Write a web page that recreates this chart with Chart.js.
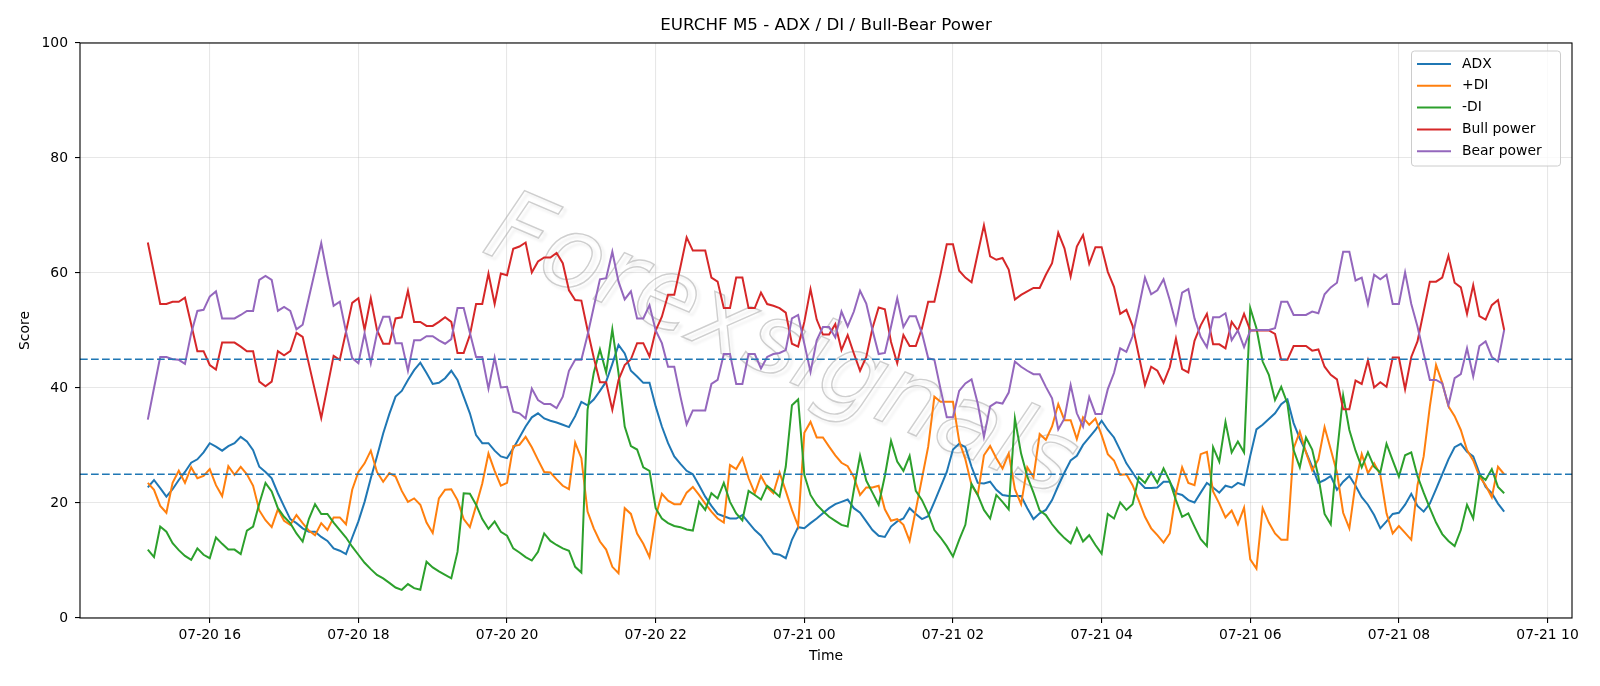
<!DOCTYPE html>
<html>
<head>
<meta charset="utf-8">
<script src="https://cdn.jsdelivr.net/npm/chart.js@4.4.1/dist/chart.umd.min.js"></script>
<style>
  body { margin: 0; background: #fff; }
  #wrap { position: absolute; left: 0; top: 0; width: 1600px; height: 686px; }
</style>
</head>
<body>
<div id="wrap"><canvas id="chart" width="1600" height="686"></canvas></div>
<script>
// EURCHF M5, one bar every 5 minutes from 07-20 15:10 to 07-21 09:25
const startMinute = 15 * 60 + 10; // minutes after 07-20 00:00
const stepMinutes = 5;

const adx = [
  22.7, 24.0, 22.6, 21.1, 22.4, 24.0, 25.4, 27.0, 27.6, 28.8,
  30.4, 29.8, 29.1, 29.9, 30.4, 31.5, 30.7, 29.2, 26.3, 25.4,
  24.3, 21.7, 19.4, 17.2, 16.5, 15.6, 15.0, 15.0, 14.1, 13.4,
  12.1, 11.7, 11.1, 14.0, 16.8, 20.2, 24.3, 28.1, 32.1, 35.5,
  38.5, 39.5, 41.4, 43.1, 44.4, 42.6, 40.7, 40.9, 41.7, 43.0,
  41.4, 38.5, 35.6, 31.8, 30.4, 30.4, 29.1, 28.1, 27.8, 29.5,
  31.4, 33.3, 34.9, 35.6, 34.7, 34.3, 34.0, 33.6, 33.2, 35.1,
  37.6, 37.0, 38.0, 39.5, 41.1, 44.2, 47.5, 46.0, 43.0, 42.0,
  40.9, 40.9, 36.8, 33.3, 30.4, 28.1, 26.8, 25.6, 25.0, 23.1,
  21.1, 19.5, 18.1, 17.7, 17.3, 17.3, 17.9, 16.6, 15.3, 14.3,
  12.7, 11.2, 11.0, 10.4, 13.6, 15.8, 15.6, 16.5, 17.3, 18.2,
  19.1, 19.8, 20.2, 20.6, 19.1, 18.3, 16.8, 15.3, 14.3, 14.1,
  15.9, 16.8, 17.3, 19.1, 18.1, 17.2, 17.7, 20.2, 22.8, 25.4,
  29.3, 30.3, 29.7, 26.3, 23.5, 23.4, 23.7, 22.3, 21.4, 21.2,
  21.2, 21.2, 19.1, 17.2, 18.2, 18.8, 20.5, 23.0, 25.3, 27.4,
  28.2, 30.1, 31.4, 32.7, 34.3, 32.7, 31.4, 29.2, 26.9, 25.3,
  23.7, 22.6, 22.6, 22.7, 23.7, 23.7, 21.7, 21.4, 20.5, 20.1,
  21.8, 23.5, 22.7, 21.8, 23.0, 22.7, 23.5, 23.1, 28.2, 32.8,
  33.6, 34.6, 35.6, 37.2, 38.0, 33.9, 31.2, 28.9, 26.3, 23.5,
  24.0, 24.7, 22.3, 23.7, 24.7, 23.0, 21.0, 19.7, 17.9, 15.6,
  16.8, 18.1, 18.3, 19.7, 21.6, 19.5, 18.5, 19.9, 22.4, 25.0,
  27.6, 29.7, 30.3, 28.9, 28.1, 25.2, 22.8, 21.7, 19.9, 18.5
];

const plusDI = [
  23.5, 22.3, 19.5, 18.3, 23.5, 25.6, 23.5, 26.2, 24.3, 24.7,
  25.9, 23.1, 21.2, 26.4, 24.9, 26.3, 25.0, 23.0, 18.7, 17.0,
  15.8, 18.9, 16.9, 16.2, 17.9, 16.5, 15.2, 14.4, 16.5, 15.3,
  17.5, 17.5, 16.3, 22.3, 25.4, 26.9, 29.1, 25.4, 23.7, 25.2,
  24.6, 22.1, 20.2, 20.8, 19.7, 16.6, 14.8, 20.8, 22.3, 22.4,
  20.5, 17.2, 15.8, 19.5, 23.4, 28.6, 25.6, 23.0, 23.5, 29.9,
  30.1, 31.5, 29.7, 27.5, 25.4, 25.3, 24.1, 23.0, 22.4, 30.5,
  27.8, 18.5, 15.6, 13.3, 11.9, 8.9, 7.8, 19.1, 18.1, 14.7,
  12.9, 10.6, 17.6, 21.6, 20.4, 19.8, 19.8, 21.8, 22.8, 21.4,
  19.9, 18.5, 17.3, 16.6, 26.6, 25.9, 27.8, 24.3, 21.7, 24.7,
  22.7, 21.7, 25.3, 22.1, 18.8, 16.0, 32.2, 34.1, 31.4, 31.4,
  29.8, 28.3, 27.0, 26.4, 24.5, 21.4, 22.7, 22.7, 23.0, 18.9,
  16.9, 17.2, 16.2, 13.4, 18.8, 24.3, 29.8, 38.5, 37.6, 37.6,
  37.6, 30.8, 27.6, 23.1, 21.4, 28.3, 29.9, 27.8, 26.0, 28.6,
  22.4, 19.8, 26.2, 24.5, 32.0, 31.0, 33.3, 37.2, 34.4, 34.4,
  31.1, 34.9, 33.6, 34.7, 31.8, 28.5, 27.4, 24.9, 25.0, 23.1,
  20.4, 17.6, 15.6, 14.4, 13.1, 14.7, 21.7, 26.2, 23.5, 23.1,
  28.5, 28.9, 22.0, 19.9, 17.5, 18.7, 16.3, 19.2, 10.2, 8.6,
  19.1, 16.6, 14.7, 13.6, 13.6, 29.5, 32.4, 28.8, 25.7, 27.6,
  33.2, 29.3, 25.3, 18.3, 15.6, 23.4, 28.5, 25.2, 26.9, 24.9,
  18.2, 14.7, 16.0, 14.8, 13.6, 23.1, 28.1, 36.8, 44.0, 40.9,
  36.8, 35.1, 32.7, 29.2, 27.4, 24.6, 23.1, 21.0, 26.3, 25.0
];

const minusDI = [
  11.9, 10.6, 15.9, 15.0, 13.0, 11.8, 10.8, 10.1, 12.1, 11.0,
  10.4, 14.0, 12.9, 11.9, 11.9, 11.1, 15.2, 15.9, 19.9, 23.5,
  22.0, 19.1, 17.6, 16.5, 14.7, 13.3, 17.2, 19.8, 18.1, 18.1,
  16.6, 15.3, 14.0, 12.4, 11.0, 9.6, 8.5, 7.5, 6.9, 6.1,
  5.3, 4.9, 5.9, 5.2, 4.9, 9.8, 8.8, 8.1, 7.5, 6.9,
  11.5, 21.7, 21.6, 19.7, 17.2, 15.5, 16.8, 15.0, 14.3, 12.1,
  11.4, 10.6, 10.0, 11.5, 14.7, 13.4, 12.7, 12.1, 11.7, 8.9,
  7.9, 36.2, 42.6, 46.7, 42.7, 50.2, 42.6, 33.3, 29.9, 29.3,
  26.2, 25.6, 19.1, 17.3, 16.5, 16.0, 15.8, 15.4, 15.2, 20.2,
  18.8, 21.7, 20.8, 23.5, 20.2, 18.2, 17.0, 22.1, 21.4, 20.6,
  23.0, 22.1, 21.1, 26.3, 37.0, 38.0, 24.9, 21.4, 19.7, 18.6,
  17.6, 16.9, 16.2, 15.9, 22.3, 28.2, 23.9, 21.8, 19.7, 24.7,
  30.8, 27.2, 25.6, 28.2, 22.1, 20.5, 18.2, 15.3, 14.0, 12.5,
  10.7, 13.6, 16.2, 23.3, 21.4, 18.8, 17.3, 21.4, 20.2, 18.9,
  34.7, 28.6, 24.6, 21.8, 18.7, 17.9, 16.3, 15.0, 13.9, 13.0,
  15.6, 13.3, 14.4, 12.7, 11.2, 18.1, 17.3, 20.1, 18.8, 19.8,
  24.5, 23.5, 25.3, 23.5, 26.0, 23.8, 20.5, 17.6, 18.2, 15.9,
  13.7, 12.5, 29.7, 27.2, 34.1, 28.8, 30.7, 28.8, 53.9, 50.4,
  44.6, 42.3, 37.9, 40.2, 37.3, 29.2, 26.2, 31.4, 29.3, 24.6,
  18.1, 16.3, 28.6, 38.7, 32.7, 29.1, 26.2, 28.8, 26.3, 25.3,
  30.3, 27.4, 24.6, 28.3, 28.8, 24.7, 21.8, 19.1, 16.6, 14.6,
  13.4, 12.5, 15.3, 19.7, 17.3, 24.9, 24.0, 25.9, 22.8, 21.7
];

const bullPower = [
  65.3, 60.0, 54.6, 54.6, 55.0, 55.0, 55.7, 51.1, 46.4, 46.4,
  44.0, 43.2, 47.9, 47.9, 47.9, 47.2, 46.4, 46.4, 41.1, 40.3,
  41.1, 46.4, 45.7, 46.4, 49.6, 48.9, 44.2, 39.5, 34.8, 40.2,
  45.6, 44.9, 49.8, 54.8, 55.6, 50.1, 55.6, 50.1, 47.7, 47.7,
  52.1, 52.3, 56.9, 51.5, 51.5, 50.8, 50.8, 51.5, 52.3, 51.5,
  46.1, 46.1, 49.2, 54.6, 54.6, 59.9, 54.6, 59.9, 59.6, 64.2,
  64.6, 65.3, 60.1, 62.0, 62.7, 62.7, 63.5, 61.7, 57.0, 55.3,
  55.2, 50.1, 45.3, 41.0, 41.0, 36.2, 41.4, 44.0, 45.0, 47.8,
  47.8, 45.5, 50.0, 52.4, 56.2, 56.2, 61.1, 66.2, 63.9, 63.9,
  63.9, 59.2, 58.5, 53.9, 53.9, 59.2, 59.2, 53.9, 53.9, 56.6,
  54.6, 54.3, 53.9, 53.1, 47.7, 47.2, 51.5, 57.2, 51.9, 49.3,
  49.3, 51.1, 46.6, 49.2, 46.0, 43.0, 45.4, 50.4, 54.0, 53.7,
  48.0, 44.3, 49.2, 47.3, 47.3, 50.4, 55.0, 55.0, 59.8, 65.0,
  65.0, 60.4, 59.2, 58.4, 63.4, 68.3, 62.9, 62.3, 62.6, 60.6,
  55.4, 56.2, 56.8, 57.4, 57.4, 59.7, 61.7, 67.0, 64.3, 59.4,
  64.6, 66.6, 61.6, 64.5, 64.5, 60.2, 57.6, 52.9, 53.6, 50.8,
  45.7, 40.5, 43.7, 43.0, 40.9, 43.6, 48.6, 43.3, 42.7, 48.2,
  50.9, 52.9, 47.6, 47.6, 46.9, 51.5, 50.0, 52.9, 50.0, 50.0,
  50.0, 50.0, 49.4, 44.9, 44.9, 47.3, 47.3, 47.3, 46.5, 46.7,
  43.7, 42.3, 41.5, 36.3, 36.3, 41.3, 40.7, 44.8, 40.1, 41.0,
  40.2, 45.3, 45.3, 39.8, 45.4, 48.1, 53.3, 58.5, 58.5, 59.2,
  63.0, 58.3, 57.5, 52.9, 57.9, 52.5, 51.9, 54.4, 55.3, 50.1
];

const bearPower = [
  34.5, 40.0, 45.4, 45.4, 45.0, 44.9, 44.2, 49.5, 53.4, 53.6,
  55.9, 56.8, 52.1, 52.1, 52.1, 52.7, 53.4, 53.4, 58.8, 59.5,
  58.8, 53.4, 54.1, 53.4, 50.2, 51.0, 55.7, 60.4, 65.2, 59.6,
  54.3, 55.0, 49.8, 45.2, 44.3, 49.5, 44.3, 49.5, 52.4, 52.4,
  47.8, 47.8, 43.0, 48.3, 48.3, 49.0, 49.0, 48.3, 47.7, 48.5,
  53.9, 53.9, 49.6, 45.4, 45.4, 39.9, 45.3, 40.1, 40.2, 35.9,
  35.6, 34.7, 39.9, 37.9, 37.2, 37.2, 36.5, 38.5, 43.0, 44.9,
  44.9, 49.2, 54.1, 58.9, 59.1, 63.7, 58.5, 55.4, 56.8, 52.1,
  52.1, 54.4, 50.0, 47.8, 43.7, 43.7, 38.5, 33.7, 36.1, 36.1,
  36.1, 40.7, 41.4, 45.9, 45.9, 40.7, 40.7, 45.9, 45.9, 43.4,
  45.4, 45.9, 46.1, 46.6, 52.1, 52.7, 47.7, 42.8, 48.3, 50.6,
  50.6, 48.8, 53.3, 50.7, 53.3, 56.9, 54.7, 50.1, 45.9, 46.1,
  50.7, 55.6, 50.6, 52.5, 52.5, 49.5, 45.2, 44.9, 39.8, 34.9,
  34.9, 39.5, 40.8, 41.5, 37.3, 31.5, 36.8, 37.5, 37.3, 39.2,
  44.6, 43.7, 43.0, 42.4, 42.4, 40.2, 38.2, 32.8, 34.7, 40.5,
  35.6, 33.3, 38.4, 35.5, 35.5, 39.8, 42.6, 46.9, 46.3, 49.0,
  54.0, 59.2, 56.3, 57.0, 58.9, 55.3, 51.2, 56.6, 57.2, 52.1,
  48.9, 47.1, 52.3, 52.3, 53.0, 48.3, 50.0, 47.1, 50.0, 50.1,
  50.1, 50.1, 50.4, 55.0, 55.0, 52.7, 52.7, 52.7, 53.3, 53.0,
  56.3, 57.5, 58.3, 63.7, 63.7, 58.7, 59.2, 54.6, 59.7, 58.9,
  59.7, 54.6, 54.6, 60.1, 54.6, 50.7, 46.0, 41.4, 41.4, 40.8,
  37.0, 41.7, 42.4, 46.9, 42.0, 47.3, 48.1, 45.4, 44.6, 50.1
];

// threshold levels (dashed)
const levels = [45, 25];

// x ticks every 2 hours
const tickMinutes = [960, 1080, 1200, 1320, 1440, 1560, 1680, 1800, 1920, 2040];
const tickLabels = ["07-20 16", "07-20 18", "07-20 20", "07-20 22", "07-21 00",
                    "07-21 02", "07-21 04", "07-21 06", "07-21 08", "07-21 10"];

const seriesNames = ["ADX", "+DI", "-DI", "Bull power", "Bear power"];
const seriesColors = ["#1f77b4", "#ff7f0e", "#2ca02c", "#d62728", "#9467bd"];

const times = adx.map((_, i) => startMinute + i * stepMinutes);
const span = times[times.length - 1] - times[0];
const xMin = times[0] - span * 0.05;
const xMax = times[times.length - 1] + span * 0.05;

const FONT = "'DejaVu Sans', 'Liberation Sans', sans-serif";
Chart.defaults.font.family = FONT;
Chart.defaults.color = "#000";

function toPoints(values) {
  return values.map((v, i) => ({ x: times[i], y: v }));
}

const lineSets = [adx, plusDI, minusDI, bullPower, bearPower].map((vals, k) => ({
  label: seriesNames[k],
  data: toPoints(vals),
  borderColor: seriesColors[k],
  borderWidth: 2,
  pointRadius: 0,
  tension: 0,
  fill: false,
  order: 10 - k,
}));

const levelSets = levels.map((lv) => ({
  label: "level " + lv,
  data: [{ x: xMin, y: lv }, { x: xMax, y: lv }],
  borderColor: "#1f77b4",
  borderWidth: 1.5,
  borderDash: [7.7, 3.3],
  pointRadius: 0,
  fill: false,
  order: 0,
  isLevel: true,
}));

// title, axis labels, frame, legend and watermark (matplotlib look)
const decor = {
  id: "decor",
  beforeDatasetsDraw(chart) {
    const ctx = chart.ctx;
    const a = chart.chartArea;
    ctx.save();
    ctx.beginPath();
    ctx.rect(a.left, a.top, a.right - a.left, a.bottom - a.top);
    ctx.clip();
    ctx.translate(780, 350);
    ctx.rotate(23 * Math.PI / 180);
    ctx.font = "italic 100px " + FONT;
    ctx.textAlign = "center";
    ctx.textBaseline = "middle";
    ctx.lineWidth = 1.4;
    ctx.shadowColor = "rgba(0,0,0,0.18)";
    ctx.shadowBlur = 3;
    ctx.shadowOffsetX = 3;
    ctx.shadowOffsetY = 3;
    ctx.strokeStyle = "rgba(160,160,160,0.5)";
    ctx.strokeText("Forexsignals", 0, 0, 650);
    ctx.restore();
  },
  afterDraw(chart) {
    const ctx = chart.ctx;
    const a = chart.chartArea;
    ctx.save();
    // frame
    ctx.strokeStyle = "#000";
    ctx.lineWidth = 1.1;
    ctx.strokeRect(a.left, a.top, a.right - a.left, a.bottom - a.top);

    // title and axis labels
    ctx.fillStyle = "#000";
    ctx.textAlign = "center";
    ctx.textBaseline = "middle";
    ctx.font = "16.7px " + FONT;
    ctx.fillText("EURCHF M5 - ADX / DI / Bull-Bear Power", (a.left + a.right) / 2, 26);
    ctx.font = "13.9px " + FONT;
    ctx.fillText("Time", (a.left + a.right) / 2, 656);
    ctx.save();
    ctx.translate(25.5, (a.top + a.bottom) / 2);
    ctx.rotate(-Math.PI / 2);
    ctx.fillText("Score", 0, 0);
    ctx.restore();

    // legend box
    const bx = 1411.5, by = 51, bw = 149, bh = 115, r = 3;
    ctx.beginPath();
    ctx.moveTo(bx + r, by);
    ctx.arcTo(bx + bw, by, bx + bw, by + bh, r);
    ctx.arcTo(bx + bw, by + bh, bx, by + bh, r);
    ctx.arcTo(bx, by + bh, bx, by, r);
    ctx.arcTo(bx, by, bx + bw, by, r);
    ctx.closePath();
    ctx.fillStyle = "rgba(255,255,255,0.8)";
    ctx.fill();
    ctx.strokeStyle = "#cccccc";
    ctx.lineWidth = 1;
    ctx.stroke();

    ctx.textAlign = "left";
    ctx.font = "13.9px " + FONT;
    chart.data.datasets.filter((d) => !d.isLevel).forEach((d, k) => {
      const y = 64 + k * 21.8;
      ctx.strokeStyle = d.borderColor;
      ctx.lineWidth = 2;
      ctx.beginPath();
      ctx.moveTo(1417, y);
      ctx.lineTo(1451, y);
      ctx.stroke();
      ctx.fillStyle = "#000";
      ctx.fillText(d.label, 1462, y);
    });
    ctx.restore();
  },
};

new Chart(document.getElementById("chart"), {
  type: "line",
  data: { datasets: [...lineSets, ...levelSets] },
  options: {
    responsive: false,
    animation: false,
    devicePixelRatio: 1,
    layout: { padding: { top: 43, right: 28, left: 0, bottom: 0 } },
    plugins: {
      legend: { display: false },
      title: { display: false },
      tooltip: { enabled: false },
    },
    scales: {
      x: {
        type: "linear",
        min: xMin,
        max: xMax,
        afterFit(scale) { scale.height = 68; },
        afterBuildTicks(scale) {
          scale.ticks = tickMinutes.map((v) => ({ value: v }));
        },
        ticks: {
          autoSkip: false,
          maxRotation: 0,
          padding: 4,
          font: { size: 13.9 },
          color: "#000",
          callback: (value, index) => tickLabels[index],
        },
        grid: {
          color: "rgba(176,176,176,0.3)",
          lineWidth: 1.1,
          tickColor: "#000",
          tickLength: 5,
          tickWidth: 1.1,
        },
        border: { display: false },
      },
      y: {
        min: 0,
        max: 100,
        afterFit(scale) { scale.width = 80; },
        ticks: {
          stepSize: 20,
          padding: 7,
          font: { size: 13.9 },
          color: "#000",
        },
        grid: {
          color: "rgba(176,176,176,0.3)",
          lineWidth: 1.1,
          tickColor: "#000",
          tickLength: 5,
          tickWidth: 1.1,
        },
        border: { display: false },
      },
    },
  },
  plugins: [decor],
});
</script>
</body>
</html>
